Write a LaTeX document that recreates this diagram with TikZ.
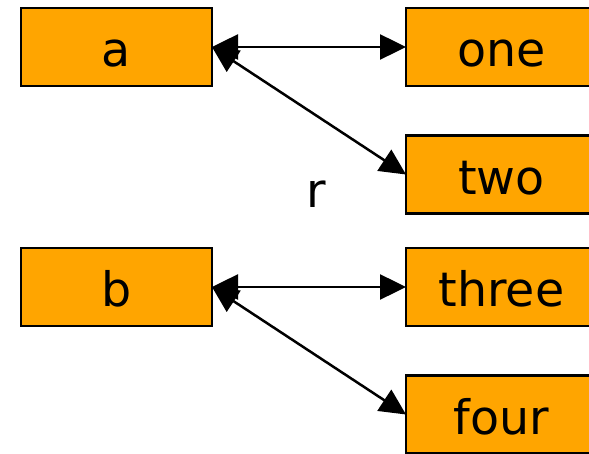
\documentclass[tikz,border=0pt]{standalone}
\usepackage{fontspec}
\setmainfont{DejaVu Sans}
\usetikzlibrary{arrows.meta}
\definecolor{boxorange}{HTML}{FFA500}
\tikzset{
  box/.style={draw=black, line width=2.5pt, fill=boxorange, minimum width=191pt, minimum height=78pt, inner sep=0pt, outer sep=0pt, text height=40pt, text depth=0pt, font=\fontsize{47.5}{52}\selectfont},
  link/.style={line width=2.5pt, {Triangle[length=26pt,width=25pt]}-{Triangle[length=26pt,width=25pt]}}
}
\begin{document}
\begin{tikzpicture}[x=1pt,y=-1pt]
\useasboundingbox (0,0) rectangle (589,454);
\node[box] (a) at (116.5,47) {a};
\node[box] (one) at (501.5,47) {one};
\node[box] (two) at (501.5,174.5) {two};
\node[box] (b) at (116.5,287) {b};
\node[box] (three) at (501.5,287) {three};
\node[box] (four) at (501.5,414.5) {four};
\node[font=\fontsize{47.5}{52}\selectfont, inner sep=0pt, anchor=base] (r) at (316,208) {r};
\draw[link] (a.east) -- (one.west);
\draw[link] (a.east) -- (two.west);
\draw[link] (b.east) -- (three.west);
\draw[link] (b.east) -- (four.west);
\end{tikzpicture}
\end{document}
